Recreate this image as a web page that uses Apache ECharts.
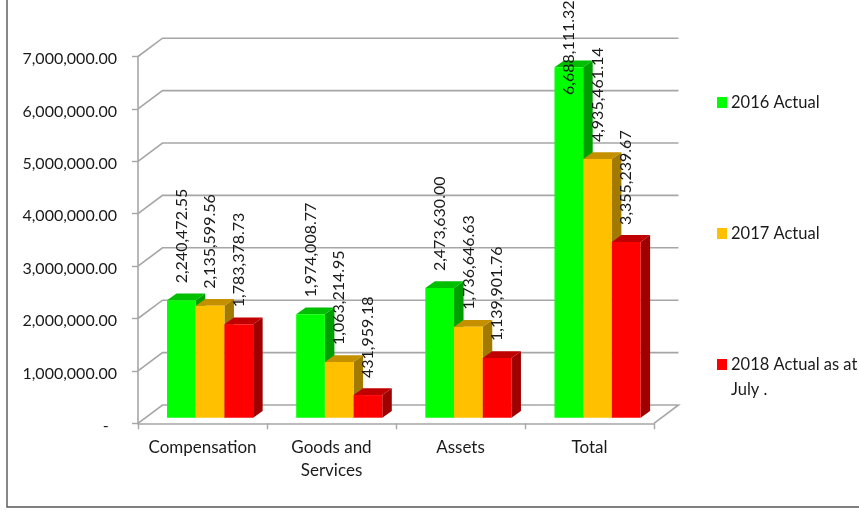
<!DOCTYPE html>
<html><head><meta charset="utf-8">
<style>html,body{margin:0;padding:0;background:#fff}#c{width:859px;height:516px}</style>
<script src="https://cdn.jsdelivr.net/npm/echarts@6/dist/echarts.min.js"></script>
</head><body><div id="c"></div>
<script>
const categories = ['Compensation', 'Goods and\nServices', 'Assets', 'Total'];
const actual2016 = [2240472.55, 1974008.77, 2473630.00, 6688111.32];
const actual2017 = [2135599.56, 1063214.95, 1736646.63, 4935461.14];
const actual2018 = [1783378.73, 431959.18, 1139901.76, 3355239.67];
const yTicks = [0, 1000000, 2000000, 3000000, 4000000, 5000000, 6000000, 7000000];
const seriesNames = ['2016 Actual', '2017 Actual', '2018 Actual as at July .'];
const fmt = v => v.toLocaleString('en-US', {minimumFractionDigits: 2, maximumFractionDigits: 2});

const FONT = 'Lato';
const TEXT = '#1a1a1a';
const GRID = '#a6a6a6';
const WALL_DX = 24.5, WALL_DY = 18.3;     // depth of the chart walls
const BAR_W = 28.7, BAR_DX = 9.5, BAR_DY = 6.8; // bar face width and depth
const BAR_SHIFT_X = 7.6, BAR_SHIFT_Y = 5.6;   // bars stand inside the floor
const LABEL_GAP = 17, LABEL_MIN_BOTTOM = 95;

function wall(params, api) {
  const cs = params.coordSys;
  const y = api.coord([0, api.value(0)])[1];
  const x0 = cs.x, x1 = cs.x + cs.width;
  const pts = [[x0, y], [x0 + WALL_DX, y - WALL_DY], [x1 + WALL_DX, y - WALL_DY]];
  if (api.value(0) === 0) pts.push([x1, y]);
  return {type: 'polyline', shape: {points: pts}, style: {fill: 'none', stroke: GRID, lineWidth: 1.6}};
}

function barRenderer(index, colors) {
  return function (params, api) {
    const cat = api.value(0), val = api.value(1);
    const center = api.coord([cat, val])[0];
    const base = api.coord([cat, 0])[1] - BAR_SHIFT_Y;
    const top = api.coord([cat, val])[1] - BAR_SHIFT_Y;
    const l = center + BAR_SHIFT_X + (index - 1.5) * BAR_W + cat * 0.15;
    const r = l + BAR_W;
    const labelBottom = Math.max(top - LABEL_GAP, LABEL_MIN_BOTTOM);
    return {type: 'group', children: [
      {type: 'polygon', shape: {points: [[r, top], [r + BAR_DX, top - BAR_DY], [r + BAR_DX, base - BAR_DY], [r, base]]},
        style: {fill: colors[2]}},
      {type: 'polygon', shape: {points: [[l, top], [l + BAR_DX, top - BAR_DY], [r + BAR_DX, top - BAR_DY], [r, top]]},
        style: {fill: colors[1]}},
      {type: 'rect', shape: {x: l, y: top, width: BAR_W, height: base - top}, style: {fill: colors[0]}},
      {type: 'text', x: l + BAR_W / 2, y: labelBottom, rotation: Math.PI / 2, z2: 100,
        style: {text: fmt(val), font: '16px ' + FONT, fill: TEXT, align: 'left', verticalAlign: 'middle'}}
    ]};
  };
}

const palette = [
  ['#00ff00', '#00bf00', '#009f00'],
  ['#ffc000', '#c49000', '#a37a00'],
  ['#ff0000', '#c00000', '#9f0000']
];
const allValues = [actual2016, actual2017, actual2018];

const bars = allValues.map((vals, i) => ({
  type: 'custom', name: seriesNames[i], clip: false, z: 3 + i,
  itemStyle: {color: palette[i][0]},
  renderItem: barRenderer(i, palette[i]),
  encode: {x: 0, y: 1},
  data: vals.map((v, c) => [c, v])
}));

const legendBase = {orient: 'vertical', left: 712, itemWidth: 10, itemHeight: 11, icon: 'rect', itemGap: 0,
  formatter: n => n === seriesNames[2] ? '2018 Actual as at\nJuly .' : n, selectedMode: false,
  textStyle: {fontFamily: FONT, fontSize: 16.5, color: TEXT, lineHeight: 25, padding: [0,0,0,-1]}};

echarts.init(document.getElementById('c'), null, {renderer: 'canvas'}).setOption({
  animation: false,
  backgroundColor: '#fff',
  grid: {left: 138, right: 205, top: 56.5, height: 366.8, containLabel: false},
  legend: [
    Object.assign({}, legendBase, {data: [seriesNames[0]], top: 85}),
    Object.assign({}, legendBase, {data: [seriesNames[1]], top: 216}),
    Object.assign({}, legendBase, {data: [seriesNames[2]], top: 347, itemHeight: 36,
      icon: 'path://M0 0H10V11H0Z M0 36H0.01V36.01H0Z'})
  ],
  xAxis: {type: 'category', data: categories,
    axisLine: {lineStyle: {color: GRID, width: 1.6}},
    axisTick: {show: true, alignWithLabel: false, length: 6, lineStyle: {color: GRID, width: 1.4}},
    axisLabel: {fontFamily: FONT, fontSize: 17, color: TEXT, lineHeight: 23, margin: 12.5, interval: 0},
    splitLine: {show: false}},
  yAxis: {type: 'value', min: 0, max: 7000000, interval: 1000000,
    axisLine: {show: true, lineStyle: {color: GRID, width: 1.6}},
    axisTick: {show: true, length: 6, lineStyle: {color: GRID, width: 1.4}},
    axisLabel: {fontFamily: FONT, fontSize: 16, color: TEXT, margin: 21, verticalAlign: 'top', lineHeight: 5,
      formatter: v => v === 0 ? '-  ' : fmt(v)},
    splitLine: {show: false}},
  series: [{type: 'custom', name: 'walls', clip: false, z: 1, renderItem: wall, silent: true,
    encode: {x: 1, y: 0}, data: yTicks.map(t => [t, 0])}].concat(bars),
  graphic: [{type: 'polyline', z: 0, shape: {points: [[7, 0], [7, 507], [859, 507]]},
    style: {fill: 'none', stroke: '#555555', lineWidth: 1.4}}]
});
</script></body></html>
